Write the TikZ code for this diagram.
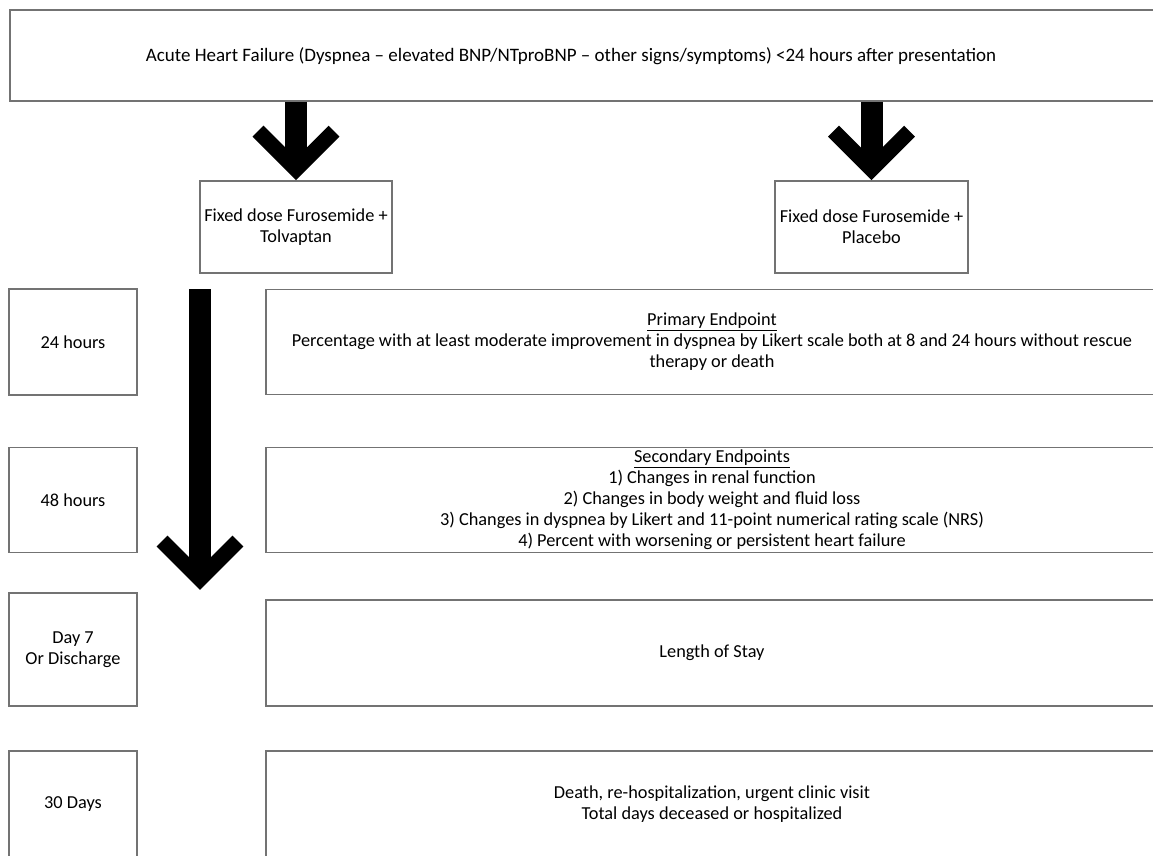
\documentclass[tikz,border=0pt]{standalone}
\usepackage{fontspec}
\setmainfont{Carlito}
\usetikzlibrary{calc}

\begin{document}
\begin{tikzpicture}[x=1pt, y=-1pt,
    box/.style={draw=black!55, line width=1.6pt, rectangle, inner sep=0pt,
                align=center, font=\fontsize{18.3}{21}\selectfont},
    timebox/.style={box, minimum width=128},
    endbox/.style={box, minimum width=892},
    shaft/.style={line width=22pt, black},
    barb/.style={line width=15.5pt, black, line join=miter}]
    \newcommand{\fatarrow}[2]{%
        \draw [shaft] #1 -- ($#2+(0,-20)$);
        \draw [barb] ($#2+(-38,-49)$) -- ($#2+(0,-11)$) -- ($#2+(38,-49)$);}

    \useasboundingbox (0,0) rectangle (1153,855);
    \clip (0,0) rectangle (1153,855);

    % inclusion
    \node [box, minimum width=1160, minimum height=91] (ahf) at (590,55.5) {};
    \node [font=\fontsize{19}{21}\selectfont, inner sep=0pt] (ahftext) at (571,56)
        {Acute Heart Failure (Dyspnea -- elevated BNP/NTproBNP -- other signs/symptoms) <24 hours after presentation};

    % randomised arms
    \node [box, minimum width=192, minimum height=92] (tolv) at (296,227) {Fixed dose Furosemide +\\Tolvaptan};
    \node [box, minimum width=193, minimum height=92] (plac) at (871.5,227) {Fixed dose Furosemide +\\Placebo};

    \fatarrow{(ahf.south -| tolv.north)}{(tolv.north)}
    \fatarrow{(ahf.south -| plac.north)}{(plac.north)}

    % time points
    \node [timebox, minimum height=106] (h24) at (73,342) {24 hours};
    \node [timebox, minimum height=105] (h48) at (73,500) {48 hours};
    \node [timebox, minimum height=113] (d7) at (73,649.5) {Day 7\\Or Discharge};
    \node [timebox, minimum height=107] (d30) at (73,804.5) {30 Days};

    % endpoints
    \node [endbox, minimum height=105] (prim) at (712,342)
        {\underline{Primary Endpoint}\\Percentage with at least moderate improvement in dyspnea by Likert scale both at 8 and 24 hours without rescue\\therapy or death};
    \node [endbox, minimum height=105] (sec) at (712,500)
        {\underline{Secondary Endpoints}\\1) Changes in renal function\\2) Changes in body weight and fluid loss\\3) Changes in dyspnea by Likert and 11-point numerical rating scale (NRS)\\4) Percent with worsening or persistent heart failure};
    \node [endbox, minimum height=106] (los) at (712,653) {Length of Stay};
    \node [endbox, minimum height=107] (out) at (712,804.5)
        {Death, re-hospitalization, urgent clinic visit\\Total days deceased or hospitalized};

    % time axis
    \coordinate (axtop) at (200,289);
    \coordinate (axtip) at (200,590);
    \fatarrow{(axtop)}{(axtip)}

\end{tikzpicture}
\end{document}
